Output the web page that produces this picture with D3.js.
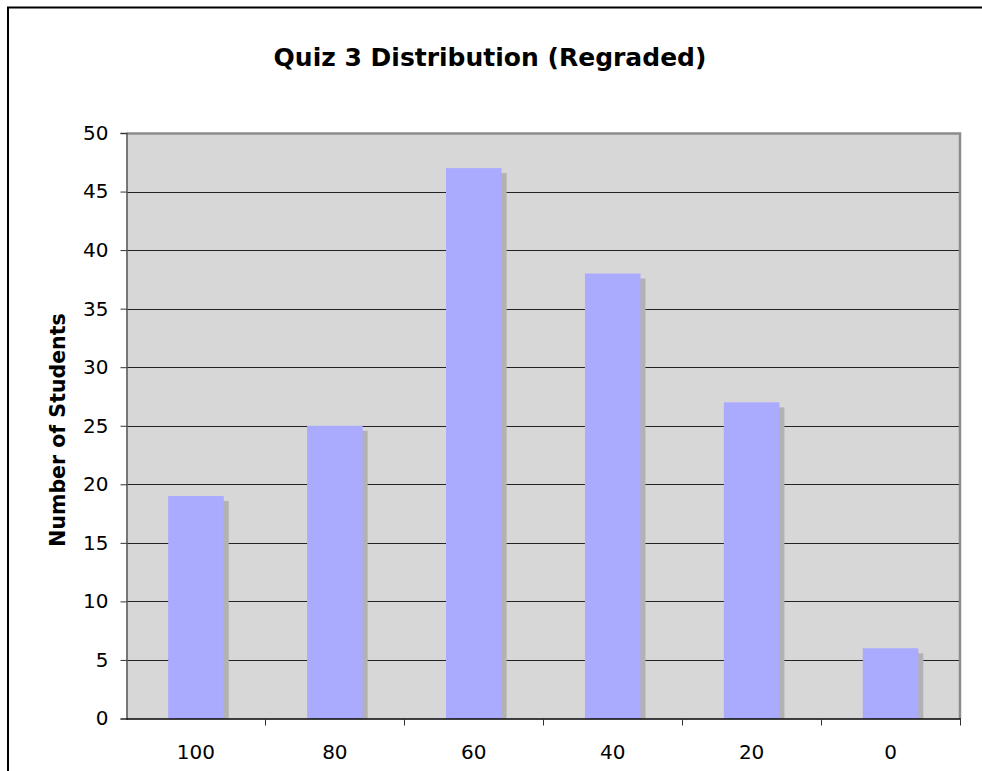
<!DOCTYPE html>
<html>
<head>
<title>Quiz 3 Distribution</title>
<script src="https://d3js.org/d3.v7.min.js"></script>
<style type="text/css">
  body { margin: 0; background: white; }
  svg { display: block; }
</style>
</head>
<body>
<div id="chart"></div>
<script type="text/javascript">

var categories = ["100", "80", "60", "40", "20", "0"];
var students = [19, 25, 47, 38, 27, 6];
var yTicks = [0, 5, 10, 15, 20, 25, 30, 35, 40, 45, 50];

var width = 982,
    height = 771;

var plot = {left: 126.5, right: 960, top: 133, bottom: 718.5};
var font = "'DejaVu Sans', Verdana, sans-serif";

var svg = d3.select("#chart")
            .append("svg")
            .attr("width", width)
            .attr("height", height);

svg.append("rect")
   .attr("width", width)
   .attr("height", height)
   .attr("fill", "white");

// outer frame, runs off right and bottom edge
svg.append("rect")
   .attr("x", 8)
   .attr("y", 7.5)
   .attr("width", width + 20)
   .attr("height", height + 20)
   .attr("fill", "none")
   .attr("stroke", "black")
   .attr("stroke-width", 2);

var x = d3.scaleBand()
          .domain(categories)
          .range([plot.left, plot.right])
          .paddingInner(0.6)
          .paddingOuter(0.3);

var xEdge = d3.scaleLinear()
              .domain([0, categories.length])
              .range([plot.left, plot.right]);

var y = d3.scaleLinear()
          .domain([0, 50])
          .range([plot.bottom, plot.top]);

// plot background
svg.append("rect")
   .attr("x", plot.left)
   .attr("y", plot.top)
   .attr("width", plot.right - plot.left)
   .attr("height", plot.bottom - plot.top)
   .attr("fill", "#d7d7d7");

// gridlines
svg.append("g")
   .selectAll("line")
   .data(yTicks.filter(function(d){ return d > 0 && d < 50; }))
   .enter()
   .append("line")
   .attr("x1", plot.left)
   .attr("x2", plot.right)
   .attr("y1", function(d){ return Math.round(y(d)) + 0.5; })
   .attr("y2", function(d){ return Math.round(y(d)) + 0.5; })
   .attr("stroke", "#222")
   .attr("stroke-width", 1);

// top and right border of plot
svg.append("path")
   .attr("d", "M" + plot.left + "," + (plot.top + 0.5) + "H" + (plot.right) + "V" + plot.bottom)
   .attr("fill", "none")
   .attr("stroke", "#8c8c8c")
   .attr("stroke-width", 2.5);

var bars = svg.append("g");

// shadows
bars.selectAll("rect.shadow")
    .data(students)
    .enter()
    .append("rect")
    .attr("class", "shadow")
    .attr("x", function(d, i){ return x(categories[i]) + 5; })
    .attr("y", function(d){ return y(d) + 5; })
    .attr("width", x.bandwidth())
    .attr("height", function(d){ return plot.bottom - y(d) - 5; })
    .attr("fill", "#b2b2b2");

bars.selectAll("rect.bar")
    .data(students)
    .enter()
    .append("rect")
    .attr("class", "bar")
    .attr("x", function(d, i){ return x(categories[i]); })
    .attr("y", function(d){ return y(d); })
    .attr("width", x.bandwidth())
    .attr("height", function(d){ return plot.bottom - y(d); })
    .attr("fill", "#aaaaff");

// y axis
var yAxis = d3.axisLeft(y)
              .tickValues(yTicks)
              .tickSize(6)
              .tickPadding(12);

var gy = svg.append("g")
            .attr("transform", "translate(" + plot.left + ",0)")
            .call(yAxis);
gy.select(".domain").attr("stroke", "#555").attr("stroke-width", 1.5);
gy.selectAll(".tick line").attr("stroke", "#333");
gy.selectAll("text")
  .attr("font-family", font)
  .attr("font-size", 20)
  .attr("fill", "black");

// x axis: ticks on category boundaries
svg.append("line")
   .attr("x1", plot.left)
   .attr("x2", plot.right + 1)
   .attr("y1", plot.bottom + 0.5)
   .attr("y2", plot.bottom + 0.5)
   .attr("stroke", "black")
   .attr("stroke-width", 1.5);

svg.append("g")
   .selectAll("line")
   .data(d3.range(1, categories.length + 1))
   .enter()
   .append("line")
   .attr("x1", function(d){ return Math.round(xEdge(d)) + 0.5; })
   .attr("x2", function(d){ return Math.round(xEdge(d)) + 0.5; })
   .attr("y1", plot.bottom)
   .attr("y2", plot.bottom + 7)
   .attr("stroke", "#333");

svg.append("g")
   .selectAll("text")
   .data(categories)
   .enter()
   .append("text")
   .attr("x", function(d){ return x(d) + x.bandwidth() / 2; })
   .attr("y", 759)
   .attr("text-anchor", "middle")
   .attr("font-family", font)
   .attr("font-size", 20)
   .text(function(d){ return d; });

// title
svg.append("text")
   .attr("x", 490)
   .attr("y", 66)
   .attr("text-anchor", "middle")
   .attr("font-family", font)
   .attr("font-weight", "bold")
   .attr("font-size", 25)
   .text("Quiz 3 Distribution (Regraded)");

// y label
svg.append("text")
   .attr("transform", "translate(65,430) rotate(-90)")
   .attr("text-anchor", "middle")
   .attr("font-family", font)
   .attr("font-weight", "bold")
   .attr("font-size", 20.5)
   .text("Number of Students");

</script>
</body>
</html>
